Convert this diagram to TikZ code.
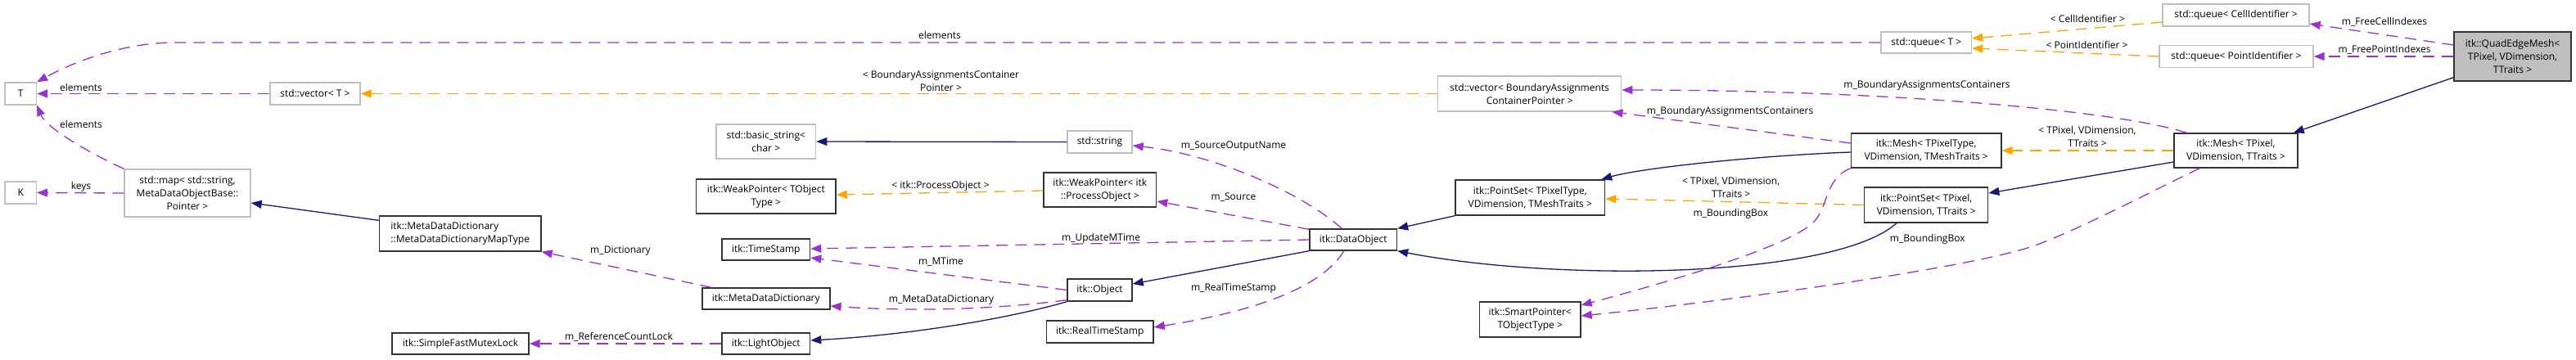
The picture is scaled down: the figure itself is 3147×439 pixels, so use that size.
\documentclass[tikz,border=0pt]{standalone}
\usepackage{fontspec}
\setmainfont{Open Sans}
\usetikzlibrary{arrows.meta,calc}
\definecolor{pu}{HTML}{9A32CD}
\definecolor{orng}{HTML}{FFA500}
\definecolor{mb}{HTML}{191970}
\definecolor{gb}{HTML}{BFBFBF}
\tikzset{
 box/.style={draw=black!80, line width=1.4pt, inner sep=0pt, align=center, font=\fontsize{12}{16}\selectfont},
 ext/.style={box, draw=gb},
 lbl/.style={inner sep=0pt, align=center, font=\fontsize{12}{16}\selectfont},
 tipa/.style={-{Triangle[length=13pt,width=10pt]}},
 pe/.style={draw=pu, line width=1.3pt, dash pattern=on 14pt off 9pt, tipa},
 oe/.style={draw=orng, line width=1.3pt, dash pattern=on 14pt off 9pt, tipa},
 be/.style={draw=mb, line width=1.3pt, tipa}
}
\begin{document}
\begin{tikzpicture}[x=1pt,y=-1pt]
\useasboundingbox (0,0) rectangle (3147,439);
% nodes
\node[ext, minimum width=38.5, minimum height=27] (T) at (25.2,114.5) {T};
\node[ext, minimum width=38.5, minimum height=27] (K) at (25.2,235.5) {K};
\node[ext, minimum width=110, minimum height=27] (vecT) at (385,114.5) {std::vector< T >};
\node[ext, minimum width=154, minimum height=58] (map) at (229,236) {std::map< std::string,\\ MetaDataObjectBase::\\Pointer >};
\node[box, minimum width=197.5, minimum height=43, align=left] (mapType) at (562.2,285.5) {itk::MetaDataDictionary\\::MetaDataDictionaryMapType};
\node[box, minimum width=167, minimum height=26] (mutex) at (562.5,420) {itk::SimpleFastMutexLock};
\node[ext, minimum width=121.6, minimum height=42] (bstr) at (935.8,173) {std::basic\_string<\\char >};
\node[box, minimum width=170.4, minimum height=42] (wpTOT) at (935.8,240) {itk::WeakPointer< TObject\\Type >};
\node[box, minimum width=107.5, minimum height=26] (tstamp) at (935.8,305) {itk::TimeStamp};
\node[box, minimum width=156, minimum height=26] (mdd) at (935.8,365) {itk::MetaDataDictionary};
\node[box, minimum width=107.5, minimum height=26] (light) at (935.8,420) {itk::LightObject};
\node[ext, minimum width=79, minimum height=27] (str) at (1343.5,173.5) {std::string};
\node[box, minimum width=137.7, minimum height=42] (wpPO) at (1343.8,232) {itk::WeakPointer< itk\\::ProcessObject >};
\node[box, minimum width=79, minimum height=27] (obj) at (1343.5,354.5) {itk::Object};
\node[box, minimum width=130.7, minimum height=27] (rts) at (1343.7,405.5) {itk::RealTimeStamp};
\node[ext, minimum width=224, minimum height=43] (vecBAC) at (1868.7,114.5) {std::vector< BoundaryAssignments\\ContainerPointer >};
\node[box, minimum width=182.5, minimum height=43] (ps1) at (1869.3,241.5) {itk::PointSet< TPixelType,\\VDimension, TMeshTraits >};
\node[box, minimum width=106.5, minimum height=26] (dobj) at (1653.2,293) {itk::DataObject};
\node[box, minimum width=123.6, minimum height=43] (sp) at (1869.2,390.5) {itk::SmartPointer<\\TObjectType >};
\node[ext, minimum width=110.5, minimum height=26] (qT) at (2353.2,52) {std::queue< T >};
\node[box, minimum width=183.5, minimum height=42] (mesh1) at (2353.2,184) {itk::Mesh< TPixelType,\\VDimension, TMeshTraits >};
\node[box, minimum width=151, minimum height=43] (ps2) at (2353.2,250.5) {itk::PointSet< TPixel,\\VDimension, TTraits >};
\node[ext, minimum width=179, minimum height=27] (qCell) at (2731.5,18.6) {std::queue< CellIdentifier >};
\node[ext, minimum width=188, minimum height=26.6] (qPoint) at (2732,69) {std::queue< PointIdentifier >};
\node[box, fill=gb, minimum width=143, minimum height=60] (qem) at (3069.5,69) {itk::QuadEdgeMesh<\\TPixel, VDimension,\\TTraits >};
\node[box, minimum width=151, minimum height=42] (mesh2) at (2731.5,184) {itk::Mesh< TPixel,\\VDimension, TTraits >};
% edges
\draw[pe] (qT.west) -- (213,52) .. controls (152,52) and (91,75) .. (T.north east);
\draw[pe] (vecT.west) -- (T.east);
\draw[pe] (map.north west) .. controls (101,183) and (56,155) .. (T.south east);
\draw[pe] (map.west) -- (K.east);
\draw[be] ($(mapType.north west)+(0,6)$) -- ($(map.east)+(0,12)$);
\draw[pe] ($(mdd.north west)+(12,0)$) -- (mapType.south east);
\draw[pe] (light.west) -- (mutex.east);
\draw[be] (obj.south west) .. controls (1222,392) and (1101,410) .. ($(light.east)+(0,-4)$);
\draw[pe] (obj.west) -- ($(tstamp.east)+(0,10)$);
\draw[pe] ($(obj.south west)+(0,-2)$) .. controls (1202,380) and (1101,380) .. ($(mdd.east)+(0,9)$);
\draw[be] (dobj.south west) -- ($(obj.east)+(0,-7.5)$);
\draw[pe] (dobj.west) -- ($(tstamp.east)+(0,-1)$);
\draw[pe] ($(dobj.north west)+(0,1)$) -- ($(wpPO.east)+(0,14)$);
\draw[pe] ($(dobj.north)+(-14,0)$) .. controls (1590,235) and (1481,188) .. ($(str.east)+(0,4.5)$);
\draw[pe] ($(dobj.south)+(-11.5,0)$) .. controls (1616,350) and (1537,380) .. ($(rts.east)+(0,-5.5)$);
\draw[oe] ($(wpPO.west)+(0,1)$) -- ($(wpTOT.east)+(0,-2)$);
\draw[be] (str.west) -- (bstr.east);
\draw[be] (ps1.south west) -- (dobj.north east);
\draw[be] ($(ps2.south west)+(40,0)$) .. controls (2242,340) and (1905,345) .. (dobj.south east);
\draw[be] ($(mesh1.west)+(0,2)$) .. controls (2151,190) and (2006,205) .. ($(ps1.north east)+(-5,0)$);
\draw[be] ($(mesh2.west)+(0,14)$) -- ($(ps2.east)+(0,-14.5)$);
\draw[be] ($(qem.south west)+(0,-5)$) -- ($(mesh2.north east)+(-6,0)$);
\draw[pe] ($(qem.west)+(0,-14)$) -- ($(qCell.east)+(0,10.5)$);
\draw[pe] (qem.west) -- (qPoint.east);
\draw[oe] ($(qCell.west)+(0,8.5)$) -- ($(qT.east)+(0,-5)$);
\draw[oe] (qPoint.west) -- ($(qT.east)+(0,7)$);
\draw[pe] ($(mesh2.north west)+(16,0)$) .. controls (2587,135) and (2303,110) .. ($(vecBAC.east)+(0,-4.5)$);
\draw[pe] ($(mesh1.west)+(0,-9)$) -- ($(vecBAC.south east)+(-12,0)$);
\draw[oe] (mesh2.west) -- (mesh1.east);
\draw[oe] (ps2.west) -- ($(ps1.east)+(0,1.5)$);
\draw[pe] (mesh1.south west) .. controls (2230,218) and (2234,250) .. (2217,270) .. controls (2191,300) and (2037,345) .. ($(sp.east)+(0,-17.5)$);
\draw[pe] ($(mesh2.south west)+(32,0)$) .. controls (2626,235) and (2541,280) .. (2486,300) .. controls (2405,329) and (2084,371) .. ($(sp.east)+(0,-4.5)$);
\draw[oe] (vecBAC.west) -- (vecT.east);
% labels
\node[lbl] (l1) at (1148,43) {elements};
\node[lbl] (l2) at (99,107) {elements};
\node[lbl] (l3) at (99,152) {elements};
\node[lbl] (l4) at (99,228) {keys};
\node[lbl] (l5) at (758,307) {m\_Dictionary};
\node[lbl] (l6) at (756,412) {m\_ReferenceCountLock};
\node[lbl] (l7) at (1149.5,320) {m\_MTime};
\node[lbl] (l8) at (1150,367) {m\_MetaDataDictionary};
\node[lbl] (l9) at (1345,291) {m\_UpdateMTime};
\node[lbl] (l10) at (1507,241) {m\_Source};
\node[lbl] (l11) at (1507,179) {m\_SourceOutputName};
\node[lbl] (l12) at (1507,352) {m\_RealTimeStamp};
\node[lbl] (l13) at (1149,227) {< itk::ProcessObject >};
\node[lbl] (l14) at (2913,27) {m\_FreeCellIndexes};
\node[lbl] (l15) at (2913,61) {m\_FreePointIndexes};
\node[lbl] (l16) at (2550.5,23) {< CellIdentifier >};
\node[lbl] (l17) at (2549.5,55) {< PointIdentifier >};
\node[lbl] (l18) at (2354,104) {m\_BoundaryAssignmentsContainers};
\node[lbl] (l19) at (2113.6,136) {m\_BoundaryAssignmentsContainers};
\node[lbl] (l20) at (2550,167) {< TPixel, VDimension,\\TTraits >};
\node[lbl] (l21) at (2114.6,229) {< TPixel, VDimension,\\TTraits >};
\node[lbl] (l22) at (2114.4,261) {m\_BoundingBox};
\node[lbl] (l23) at (2354.7,292) {m\_BoundingBox};
\node[lbl] (l24) at (1149.5,99) {< BoundaryAssignmentsContainer\\Pointer >};
\end{tikzpicture}
\end{document}
